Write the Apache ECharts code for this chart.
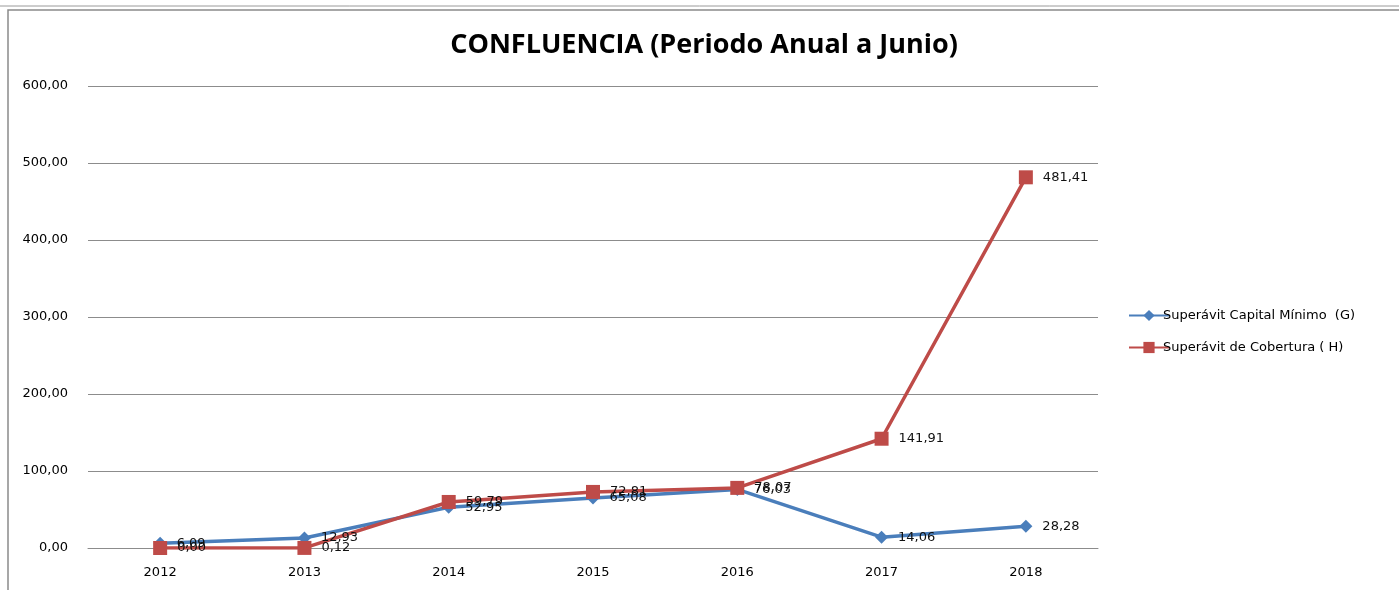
<!DOCTYPE html>
<html>
<head>
<meta charset="utf-8">
<script src="https://cdn.jsdelivr.net/npm/echarts@6/dist/echarts.min.js"></script>
<style>
  html, body { margin: 0; padding: 0; background: #fff; }
  #chart { width: 1399px; height: 590px; }
</style>
</head>
<body>
<div id="chart"></div>
<script>
// datos
const years = ['2012', '2013', '2014', '2015', '2016', '2017', '2018']
const capitalMinimo = [6.09, 12.93, 52.95, 65.08, 76.03, 14.06, 28.28]
const cobertura = [0.00, 0.12, 59.79, 72.81, 78.07, 141.91, 481.41]
const yTicks = [0, 100, 200, 300, 400, 500, 600]

const fmt = v => Number(v).toFixed(2).replace('.', ',')

const chart = echarts.init(document.getElementById('chart'))

const option = {
  animation: false,
  backgroundColor: '#fff',
  textStyle: { fontFamily: 'DejaVu Sans, sans-serif' },
  title: {
    text: 'CONFLUENCIA (Periodo Anual a Junio)',
    left: 699,
    textAlign: 'center',
    top: 27,
    textStyle: { fontSize: 27, fontWeight: 'bold', color: '#000', fontFamily: 'Open Sans' }
  },
  legend: {
    orient: 'vertical',
    left: 1123,
    top: 304,
    itemWidth: 40,
    itemHeight: 14,
    itemGap: 19,
    textStyle: { fontSize: 13, color: '#000', padding: [0, 0, 0, -11] },
    data: ['Superávit Capital Mínimo  (G)', 'Superávit de Cobertura ( H)']
  },
  grid: { left: 88, right: 301, top: 86, bottom: 42 },
  xAxis: {
    type: 'category',
    data: years,
    boundaryGap: true,
    axisLine: { lineStyle: { color: '#8c8c8c' } },
    axisTick: { show: false },
    axisLabel: { fontSize: 13, color: '#000', margin: 18 }
  },
  yAxis: {
    type: 'value',
    min: yTicks[0],
    max: yTicks[yTicks.length - 1],
    interval: 100,
    axisLine: { show: false },
    axisTick: { show: false },
    splitLine: { lineStyle: { color: '#8c8c8c' } },
    axisLabel: { fontSize: 13, color: '#000', margin: 20, padding: [3, 0, 0, 0], formatter: fmt }
  },
  graphic: [
    { type: 'line', shape: { x1: 0, y1: 6, x2: 1399, y2: 6 }, style: { stroke: '#9a9a9a', lineWidth: 1 } },
    { type: 'rect', shape: { x: 8, y: 10, width: 1400, height: 600 }, style: { fill: 'none', stroke: '#8a8a8a', lineWidth: 1.5 } }
  ],
  series: [
    {
      name: 'Superávit Capital Mínimo  (G)',
      type: 'line',
      data: capitalMinimo,
      symbol: 'diamond',
      symbolSize: 13,
      color: '#4a7ebb',
      lineStyle: { width: 3.5 },
      label: { show: true, position: 'right', distance: 10, fontSize: 13, color: '#111', formatter: p => fmt(p.value) }
    },
    {
      name: 'Superávit de Cobertura ( H)',
      type: 'line',
      data: cobertura,
      symbol: 'rect',
      symbolSize: 14,
      color: '#be4b48',
      lineStyle: { width: 3.5 },
      label: { show: true, position: 'right', distance: 10, fontSize: 13, color: '#111', formatter: p => fmt(p.value) }
    }
  ]
}

chart.setOption(option)
</script>
</body>
</html>
